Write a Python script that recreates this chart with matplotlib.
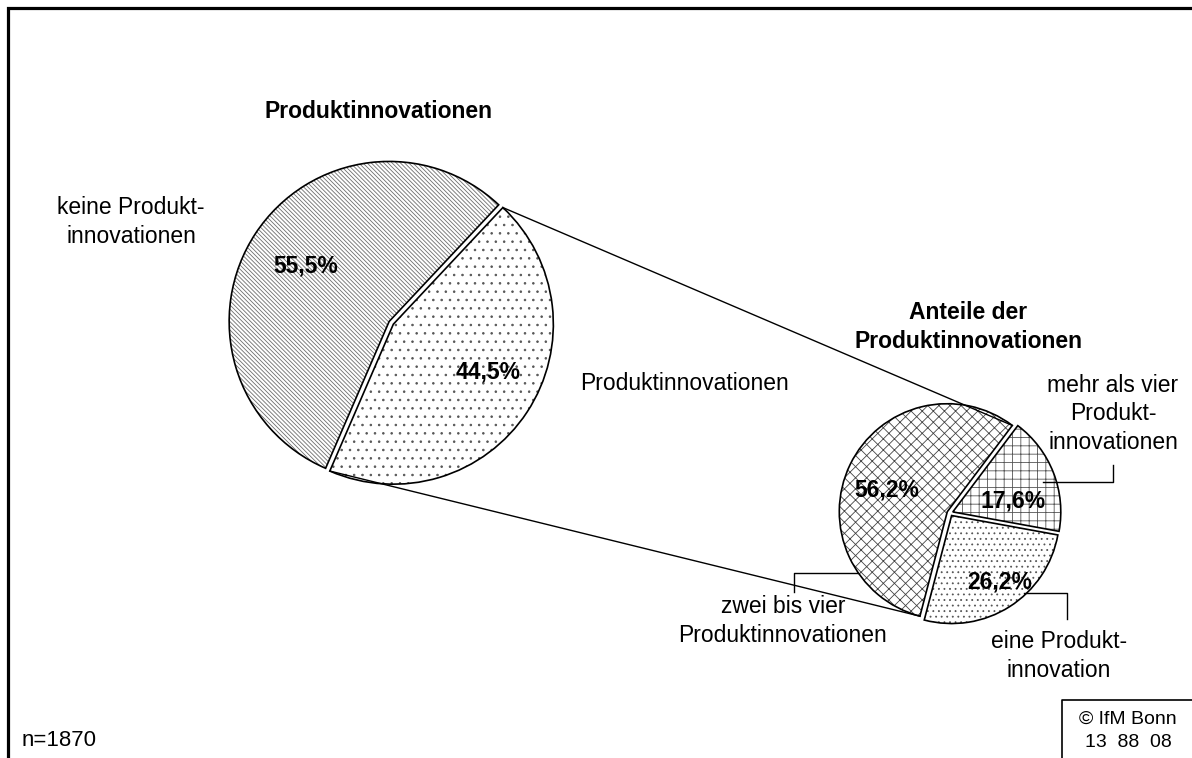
import numpy as np
import matplotlib
matplotlib.use("Agg")
import matplotlib.pyplot as plt

plt.rcParams['font.family'] = ['Liberation Sans', 'DejaVu Sans']
plt.rcParams['hatch.linewidth'] = 0.6

# data
main_labels = ["keine Produkt-\ninnovationen", "Produktinnovationen"]
main_values = [55.5, 44.5]
sub_labels = ["zwei bis vier\nProduktinnovationen", "eine Produkt-\ninnovation",
              "mehr als vier\nProdukt-\ninnovationen"]
sub_values = [56.2, 26.2, 17.6]
n_text = "n=1870"
source_text = "© IfM Bonn\n13  88  08"

W, H = 1192, 758
BS = chr(92)  # backslash for hatch


def py(y):
    # pixel row (from top) -> data y
    return H - y


def pct(v):
    return f"{v:.1f}%".replace(".", ",")


fig = plt.figure(figsize=(W / 100, H / 100), dpi=100)
ax = fig.add_axes([0, 0, 1, 1])

# left pie (explode is in data units = pixels here)
left_center = (390, py(322))
left_r = 160
left_explode = [1.0, 4.0]
main_hatch = [BS * 8, '..']
main_hcol = ['#6e6e6e', '#555555']
lw_, _ = ax.pie(main_values, startangle=46.8, counterclock=True, radius=left_r,
                center=left_center, explode=left_explode, frame=True,
                wedgeprops=dict(facecolor='white', linewidth=0))
for w, h, c in zip(lw_, main_hatch, main_hcol):
    w.set_hatch(h)
    w.set_edgecolor(c)
ax.pie(main_values, startangle=46.8, counterclock=True, radius=left_r,
       center=left_center, explode=left_explode, frame=True,
       wedgeprops=dict(fill=False, edgecolor='black', linewidth=1.2))

# right pie
right_center = (950, py(513))
right_r = 108
right_explode = [3.0, 3.0, 3.0]
sub_hatch = ['xxx', '...', '++']
sub_hcol = ['#444444', '#555555', '#555555']
rw_, _ = ax.pie(sub_values, startangle=53, counterclock=True, radius=right_r,
                center=right_center, explode=right_explode, frame=True,
                wedgeprops=dict(facecolor='white', linewidth=0))
for w, h, c in zip(rw_, sub_hatch, sub_hcol):
    w.set_hatch(h)
    w.set_edgecolor(c)
ax.pie(sub_values, startangle=53, counterclock=True, radius=right_r,
       center=right_center, explode=right_explode, frame=True,
       wedgeprops=dict(fill=False, edgecolor='black', linewidth=1.2))


def edge_point(w, ang):
    a = np.deg2rad(ang)
    return w.center[0] + w.r * np.cos(a), w.center[1] + w.r * np.sin(a)


# connector lines between the pies
src, dst = lw_[1], rw_[0]
p1 = edge_point(src, src.theta2)
q1 = edge_point(dst, dst.theta1)
p2 = edge_point(src, src.theta1)
q2 = edge_point(dst, dst.theta2)
ax.plot([p1[0], q1[0]], [p1[1], q1[1]], color='black', lw=1.0)
ax.plot([p2[0], q2[0]], [p2[1], q2[1]], color='black', lw=1.0)

fs = 16.5
ls = 1.3
# titles
ax.text(379, py(111), "Produktinnovationen", ha='center', va='center',
        fontsize=fs, fontweight='bold')
ax.text(968, py(327), "Anteile der\nProduktinnovationen", ha='center', va='center',
        fontsize=fs, fontweight='bold', linespacing=ls)

# category labels
ax.text(131, py(222), main_labels[0], ha='center', va='center', fontsize=fs,
        linespacing=ls)
ax.text(685, py(384), main_labels[1], ha='center', va='center', fontsize=fs)
ax.text(783, py(621), sub_labels[0], ha='center', va='center', fontsize=fs,
        linespacing=ls)
ax.text(1059, py(656), sub_labels[1], ha='center', va='center', fontsize=fs,
        linespacing=ls)
ax.text(1113, py(414), sub_labels[2], ha='center', va='center', fontsize=fs,
        linespacing=ls)

# percentage labels
main_pct_pos = [(306, 266), (488, 372)]
for v, (x, y) in zip(main_values, main_pct_pos):
    ax.text(x, py(y), pct(v), ha='center', va='center', fontsize=fs, fontweight='bold')
sub_pct_pos = [(887, 490), (1000, 582), (1013, 501)]
for v, (x, y) in zip(sub_values, sub_pct_pos):
    ax.text(x, py(y), pct(v), ha='center', va='center', fontsize=fs, fontweight='bold')

# leader lines
leaders = [
    [(858, 573), (794, 573), (794, 592)],
    [(1024, 593), (1067, 593), (1067, 619)],
    [(1043, 482), (1113, 482), (1113, 465)],
]
for pts in leaders:
    xs = [p[0] for p in pts]
    ys = [py(p[1]) for p in pts]
    ax.plot(xs, ys, color='black', lw=1.0)

# footer
ax.text(22, py(740), n_text, ha='left', va='center', fontsize=16)
ax.text(1128, py(731), source_text, ha='center', va='center', fontsize=14,
        linespacing=1.45)
ax.plot([1062, 1062, W], [0, py(700), py(700)], color='black', lw=1.2)

# outer frame
ax.plot([7.5, 7.5, W], [0, py(7.5), py(7.5)], color='black', lw=2.3,
        solid_joinstyle='miter')

ax.set_xlim(0, W)
ax.set_ylim(0, H)
ax.set_aspect('auto')
ax.axis('off')

fig.savefig("out.png", dpi=100)
